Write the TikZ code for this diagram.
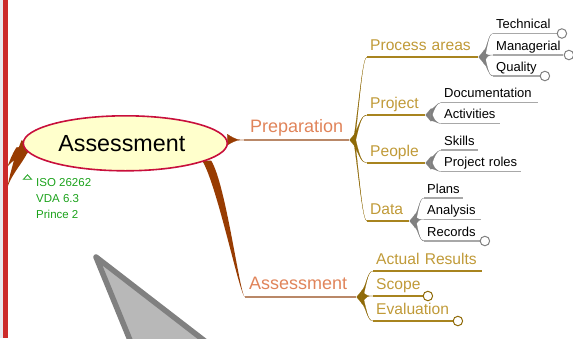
\documentclass[tikz,border=0pt]{standalone}
\usepackage{fontspec}
\setmainfont{Liberation Sans}
\usetikzlibrary{backgrounds,shapes.geometric,calc}
\definecolor{brn}{HTML}{983C02}
\definecolor{orgT}{HTML}{E0845A}
\definecolor{orgL}{HTML}{B98868}
\definecolor{gldT}{HTML}{C09A38}
\definecolor{gldL}{HTML}{A8841F}
\definecolor{gldF}{HTML}{8F6A08}
\definecolor{gryL}{HTML}{A8A8A8}
\definecolor{gryF}{HTML}{808080}
\definecolor{grn}{HTML}{1BA21B}
\definecolor{rootB}{HTML}{C80F3C}
\definecolor{rootF}{HTML}{FFFFCC}
\definecolor{barR}{HTML}{CC2A2A}
\definecolor{barG}{HTML}{E8E8EE}
\definecolor{ptrF}{HTML}{B8B8B8}
\tikzset{
  lab/.style={anchor=south west,inner ysep=0pt,align=left},
  big/.style={lab,font=\fontsize{18}{20}\selectfont,text=orgT,text depth=7.3pt},
  mid/.style={lab,font=\fontsize{15.6}{18}\selectfont,text=gldT,text depth=6.3pt},
  sml/.style={lab,font=\fontsize{13}{15}\selectfont,text=black,text depth=4.8pt},
  knobG/.style={circle,draw=gryF,fill=white,line width=1pt,minimum size=9.5pt,inner sep=0pt},
  knobY/.style={circle,draw=gldF,fill=white,line width=1pt,minimum size=9.5pt,inner sep=0pt},
  note/.style={anchor=base west,inner sep=0pt,font=\fontsize{11.5}{13}\selectfont,text=grn}
}
% name, x, y, length, text offset, style, text, line colour, line width
\newcommand{\tnode}[9]{%
  \node[#6,inner xsep=#5pt,text width=\dimexpr#4pt-2\dimexpr#5pt\relax] (#1) at (#2,#3) {#7};
  \draw[#8,line width=#9pt] (#1.south west) -- (#1.south east);
}
% evenly narrowing, wide end measured across x: colour, from, to, half width, control offsets
\newcommand{\taper}[6]{%
  \fill[#1] ([xshift=#4pt]#2) .. controls +(#5) and +(#6) .. (#3)
     .. controls +(#6) and +(#5) .. ([xshift=-#4pt]#2) -- cycle;
}
% quickly narrowing to a hairline
\newcommand{\hair}[6]{%
  \filldraw[#1,line width=.15pt] ([yshift=#4pt]#2) .. controls ($(#2)+(#5)$) and ($(#3)+(#6)$) .. (#3)
     .. controls ($(#3)+(#6)$) and ($(#2)+(#5)$) .. ([yshift=-#4pt]#2) -- cycle;
}
% colour, point of the head, centre of the head, half height
\newcommand{\forkhead}[4]{%
  \fill[#1] (#2) -- ([yshift=#4pt]#3) -- ([yshift=-#4pt]#3) -- cycle;
}
\begin{document}
\begin{tikzpicture}[x=1pt,y=-1pt]
\clip (0,0) rectangle (573,338);
% window edge
\fill[barG] (0,0) rectangle (3,338);
\fill[barR] (3,0) rectangle (7.5,338);
% pointer
\draw[gryF,fill=ptrF,line width=5.5pt,line join=round] (96,257) -- (210,345) -- (132,345) -- cycle;
% root
\node[ellipse,draw=rootB,line width=1.6pt,fill=rootF,minimum width=204pt,minimum height=55pt,inner sep=0pt,font=\fontsize{23.3}{26}\selectfont] (root) at (125.3,143.3) {Assessment\hspace{7pt}\mbox{}};
\coordinate (leftA) at (7,168);
\coordinate (leftB) at (7,190);
% first level
\tnode{prep}{244}{140}{105}{6}{big}{Preparation}{orgL}{1.2}
\tnode{asmt}{245}{297}{111}{4}{big}{Assessment}{orgL}{2}
% second level
\tnode{proc}{367}{57}{111}{3}{mid}{Process areas}{gldL}{1.5}
\tnode{proj}{367}{115}{58}{3}{mid}{Project}{gldL}{1.5}
\tnode{peop}{367}{163}{58}{3}{mid}{People}{gldL}{1.5}
\tnode{data}{367}{221}{42}{3}{mid}{Data}{gldL}{1.5}
\tnode{actu}{373}{271}{109}{3}{mid}{Actual Results}{gldL}{1.5}
\tnode{scop}{373}{296}{50}{3}{mid}{Scope}{gldL}{1.5}
\tnode{eval}{373}{321}{80}{3}{mid}{Evaluation}{gldL}{1.5}
% third level
\tnode{tech}{493}{33.5}{64}{3}{sml}{Technical}{gryL}{1.2}
\tnode{mana}{493}{55}{70}{3}{sml}{Managerial}{gryL}{1.5}
\tnode{qual}{493}{76}{47}{3}{sml}{Quality}{gryL}{1.2}
\tnode{docu}{441}{102.5}{97}{3}{sml}{Documentation}{gryL}{1.2}
\tnode{acti}{441}{123.5}{59}{3}{sml}{Activities}{gryL}{1.2}
\tnode{skil}{441}{150}{37}{3}{sml}{Skills}{gryL}{1.2}
\tnode{role}{441}{171.5}{80}{3}{sml}{Project roles}{gryL}{1.2}
\tnode{plan}{424}{198}{39}{3}{sml}{Plans}{gryL}{1.2}
\tnode{anal}{424}{219.5}{57}{3}{sml}{Analysis}{gryL}{1.2}
\tnode{reco}{424}{241}{56}{3}{sml}{Records}{gryL}{1.5}
% folded knobs
\node[knobG] (k1) at ($(tech.south east)+(4.5,0)$) {};
\node[knobG] (k2) at ($(mana.south east)+(5.5,0)$) {};
\node[knobG] (k3) at ($(qual.south east)+(4.5,0)$) {};
\node[knobG] (k4) at ($(reco.south east)+(4.5,0)$) {};
\node[knobY] (k5) at ($(scop.south east)+(4.5,0)$) {};
\node[knobY] (k6) at ($(eval.south east)+(4.5,0)$) {};
% notes
\node[isosceles triangle,isosceles triangle apex angle=85,shape border rotate=90,draw=grn,line width=.8pt,fill=white,minimum height=4.5pt,inner sep=0pt] (tri) at (27.5,177.5) {};
\node[note] (n1) at (36,186) {ISO 26262};
\node[note] (n2) at (36,202) {VDA 6.3};
\node[note] (n3) at (36,218) {Prince 2};
% connectors
\begin{scope}[on background layer]
\coordinate (lb) at ($(root.west)+(1,4)$);
\fill[brn] (root.west) ++(-1,-3) -- ++(8,3) -- ++(-2,10) -- ++(-11,0) -- cycle;
\taper{brn}{lb}{leftA}{7}{-5,8}{3,-8}
\taper{brn}{lb}{leftB}{6}{-3,12}{2,-14}
\hair{brn}{root.2}{prep.south west}{5.5}{9,0}{-6,0}
\taper{brn}{root.-12}{asmt.south west}{4.5}{15,24}{-5,0}
\coordinate (gf) at (prep.south east);
\coordinate (gc) at ($(gf)+(5,0)$);
\coordinate (af) at (asmt.south east);
\coordinate (ac) at ($(af)+(5,0)$);
\forkhead{gldF}{gf}{gc}{6}
\forkhead{gldF}{af}{ac}{6}
\hair{gldF}{gc}{proc.south west}{6}{6,-50}{-4,0}
\hair{gldF}{gc}{proj.south west}{6}{5,-15}{-6,0}
\hair{gldF}{gc}{peop.south west}{6}{5,15}{-6,0}
\hair{gldF}{gc}{data.south west}{6}{6,50}{-4,0}
\hair{gldF}{ac}{actu.south west}{6}{5,-10}{-6,0}
\hair{gldF}{ac}{scop.south west}{6}{6,-1}{-6,0}
\hair{gldF}{ac}{eval.south west}{6}{5,10}{-6,0}
\coordinate (p1) at (proc.south east);
\coordinate (p2) at (proj.south east);
\coordinate (p3) at (peop.south east);
\coordinate (p4) at (data.south east);
\coordinate (c1) at ($(p1)+(5,0)$);
\coordinate (c2) at ($(p2)+(5,0)$);
\coordinate (c3) at ($(p3)+(5,0)$);
\coordinate (c4) at ($(p4)+(5,0)$);
\forkhead{gryF}{p1}{c1}{6}
\forkhead{gryF}{p2}{c2}{6}
\forkhead{gryF}{p3}{c3}{6}
\forkhead{gryF}{p4}{c4}{6}
\hair{gryF}{c1}{tech.south west}{6}{4,-8}{-5,0}
\hair{gryF}{c1}{mana.south west}{6}{4,-1}{-5,0}
\hair{gryF}{c1}{qual.south west}{6}{4,8}{-5,0}
\hair{gryF}{c2}{docu.south west}{6}{3,-5}{-4,0}
\hair{gryF}{c2}{acti.south west}{6}{3,5}{-4,0}
\hair{gryF}{c3}{skil.south west}{6}{3,-5}{-4,0}
\hair{gryF}{c3}{role.south west}{6}{3,5}{-4,0}
\hair{gryF}{c4}{plan.south west}{6}{4,-8}{-5,0}
\hair{gryF}{c4}{anal.south west}{6}{4,-1}{-5,0}
\hair{gryF}{c4}{reco.south west}{6}{4,8}{-5,0}
\end{scope}
\end{tikzpicture}
\end{document}
